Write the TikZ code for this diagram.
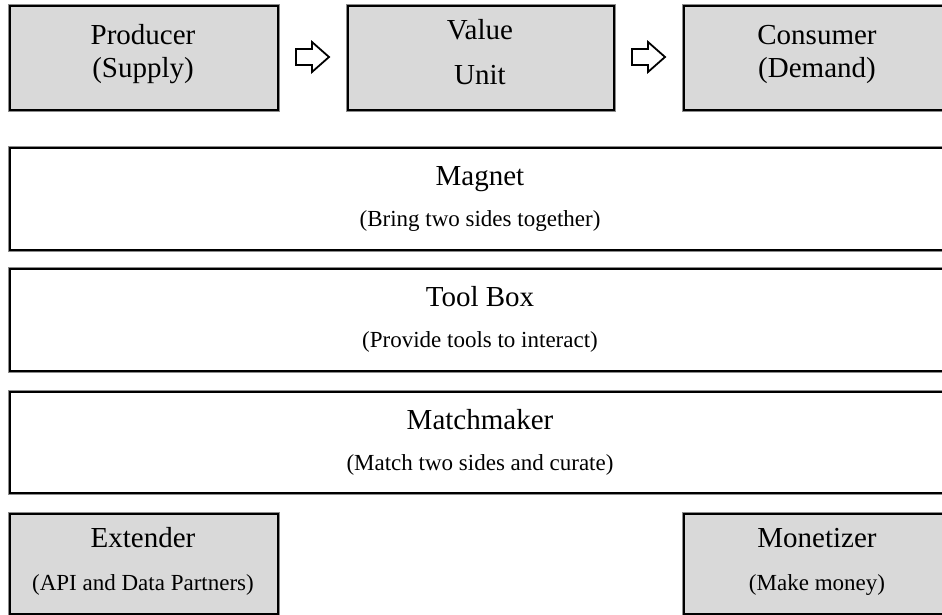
\documentclass[tikz,border=0pt]{standalone}
\usepackage{fontspec}
\setmainfont{Liberation Serif}
\definecolor{boxgray}{RGB}{217,217,217}
\definecolor{fringe}{RGB}{140,140,140}
\tikzset{
  panel/.style={draw=black, line width=1.8pt,
    preaction={draw=fringe, line width=3.6pt},
    rectangle, anchor=north west, inner sep=0pt},
  shaded/.style={panel, fill=boxgray},
  plain/.style={panel, fill=white},
  title/.style={anchor=base, inner sep=0pt, font=\fontsize{29}{29}\selectfont},
  subtitle/.style={anchor=base, inner sep=0pt, font=\fontsize{23}{23}\selectfont},
  blockarrow/.style={draw=black, line width=1.8pt, fill=white, line join=miter}
}
\begin{document}
\begin{tikzpicture}[x=1pt,y=-1pt]
\useasboundingbox (0,0) rectangle (942,615);
\clip (0,0) rectangle (942,615);
% top row: producer -> value unit -> consumer
\node[shaded, minimum width=268pt, minimum height=104pt] (prod) at (9,5) {};
\node[shaded, minimum width=266pt, minimum height=104pt] (value) at (347,5) {};
\node[shaded, minimum width=268pt, minimum height=104pt] (cons) at (683,5) {};
\node[title] (prodA) at (143,45) {Producer};
\node[title] (prodB) at (143,78) {(Supply)};
\node[title] (valueA) at (480,40) {Value};
\node[title] (valueB) at (480,85) {Unit};
\node[title] (consA) at (817,45) {Consumer};
\node[title] (consB) at (817,78) {(Demand)};
% block arrows between the top boxes
\draw[blockarrow] (296,49) -- (312,49) -- (312,42) -- (329,57) -- (312,72) -- (312,65) -- (296,65) -- cycle;
\draw[blockarrow] (632,49) -- (648,49) -- (648,42) -- (665,57) -- (648,72) -- (648,65) -- (632,65) -- cycle;
% platform layers
\node[plain, minimum width=942pt, minimum height=102pt] (magnet) at (9,147) {};
\node[title] (magnetA) at (480,185) {Magnet};
\node[subtitle] (magnetB) at (480,226) {(Bring two sides together)};
\node[plain, minimum width=942pt, minimum height=102pt] (tool) at (9,268) {};
\node[title] (toolA) at (480,306) {Tool Box};
\node[subtitle] (toolB) at (480,347) {(Provide tools to interact)};
\node[plain, minimum width=942pt, minimum height=101pt] (match) at (9,391) {};
\node[title] (matchA) at (480,429) {Matchmaker};
\node[subtitle] (matchB) at (480,470) {(Match two sides and curate)};
% bottom row
\node[shaded, minimum width=268pt, minimum height=100pt] (ext) at (9,513) {};
\node[title] (extA) at (143,547) {Extender};
\node[subtitle] (extB) at (143,590) {(API and Data Partners)};
\node[shaded, minimum width=268pt, minimum height=100pt] (mon) at (683,513) {};
\node[title] (monA) at (817,547) {Monetizer};
\node[subtitle] (monB) at (817,590) {(Make money)};
\end{tikzpicture}
\end{document}
